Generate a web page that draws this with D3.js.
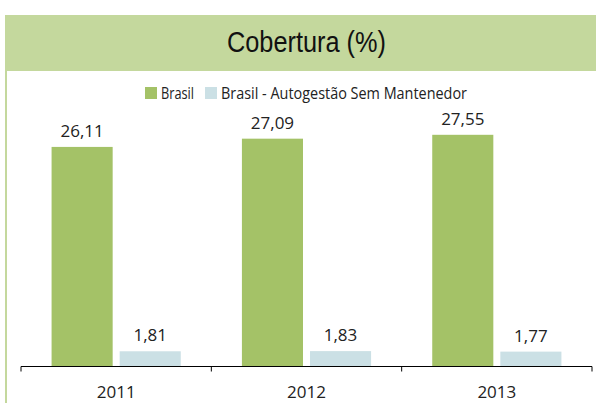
<!DOCTYPE html>
<html>
<head>
<meta charset="utf-8">
<script src="https://cdn.jsdelivr.net/npm/d3@7"></script>
<style>
  body { margin: 0; background: #fff; }
  svg { display: block; }
</style>
</head>
<body>
<svg></svg>
<script>
const width = 596
const height = 405
const years = ['2011', '2012', '2013']
const seriesNames = ['Brasil', 'Brasil - Autogestão Sem Mantenedor']
const brasil = [26.11, 27.09, 27.55]
const autogestao = [1.81, 1.83, 1.77]
const seriesColors = ['#a4c267', '#cbe0e5']
const title = 'Cobertura (%)'

const rows = years.map((y, i) => ({ year: y, values: [brasil[i], autogestao[i]] }))

const svg = d3.select('svg')
  .attr('width', width)
  .attr('height', height)

// title band + left border
svg.append('rect')
  .attr('x', 5).attr('y', 15)
  .attr('width', width - 5).attr('height', 56)
  .attr('fill', '#c4d89d')
svg.append('rect')
  .attr('x', 5).attr('y', 71)
  .attr('width', 2).attr('height', 332)
  .attr('fill', '#c4d89d')

// narrow font is missing, so squeeze a regular one
svg.append('text')
  .attr('x', 227).attr('y', 52)
  .attr('textLength', 159)
  .attr('lengthAdjust', 'spacingAndGlyphs')
  .style('font-family', '"Liberation Sans", Arial, sans-serif')
  .style('font-size', '30px')
  .attr('fill', '#111')
  .text(title)

// legend
const legendX = [145, 205]
const legendW = [33, 246]
const legend = svg.selectAll('.legend')
  .data(seriesNames)
  .join('g')
  .classed('legend', true)
  .attr('transform', (d, i) => `translate(${legendX[i]}, 87)`)
legend.append('rect')
  .attr('width', 12).attr('height', 12)
  .attr('fill', (d, i) => seriesColors[i])
legend.append('text')
  .attr('x', 16).attr('y', 11.5)
  .attr('textLength', (d, i) => legendW[i])
  .attr('lengthAdjust', 'spacingAndGlyphs')
  .style('font-family', '"Open Sans", sans-serif')
  .style('font-size', '16px')
  .attr('fill', '#222')
  .text(d => d)

// scales
const x0 = d3.scaleBand()
  .domain(years)
  .range([21, 592])
  .padding(0)

const x1 = d3.scaleBand()
  .domain([0, 1])
  .range([0, x0.bandwidth()])
  .paddingInner(0.103)
  .paddingOuter(0.449)

const y = d3.scaleLinear()
  .domain([0, 30])
  .range([366.5, 114.2])

const group = svg.selectAll('.year')
  .data(rows)
  .join('g')
  .classed('year', true)
  .attr('transform', d => `translate(${x0(d.year)}, 0)`)

group.selectAll('rect')
  .data(d => d.values)
  .join('rect')
  .attr('x', (d, i) => x1(i))
  .attr('y', d => y(d))
  .attr('width', x1.bandwidth())
  .attr('height', d => y(0) - y(d))
  .attr('fill', (d, i) => seriesColors[i])

group.selectAll('.val')
  .data(d => d.values)
  .join('text')
  .classed('val', true)
  .attr('x', (d, i) => x1(i) + x1.bandwidth() / 2)
  .attr('y', d => y(d) - 10)
  .attr('text-anchor', 'middle')
  .style('font-family', '"Open Sans", sans-serif')
  .style('font-size', '17px')
  .attr('fill', '#222')
  .text(d => d.toFixed(2).replace('.', ','))

// axis
const axis = svg.append('g')
  .attr('transform', `translate(0, ${y(0)})`)
axis.append('line')
  .attr('x1', 21).attr('x2', 592)
  .attr('stroke', '#000').attr('stroke-width', 1)
const tickPos = years.map(d => x0(d)).concat([x0.range()[1]])
axis.selectAll('.tick')
  .data(tickPos)
  .join('line')
  .classed('tick', true)
  .attr('x1', d => d).attr('x2', d => d)
  .attr('y1', 0).attr('y2', 5)
  .attr('stroke', '#000')
axis.selectAll('.lbl')
  .data(years)
  .join('text')
  .classed('lbl', true)
  .attr('x', d => x0(d) + x0.bandwidth() / 2)
  .attr('y', 31)
  .attr('text-anchor', 'middle')
  .style('font-family', '"Open Sans", sans-serif')
  .style('font-size', '17px')
  .attr('fill', '#222')
  .text(d => d)
</script>
</body>
</html>
